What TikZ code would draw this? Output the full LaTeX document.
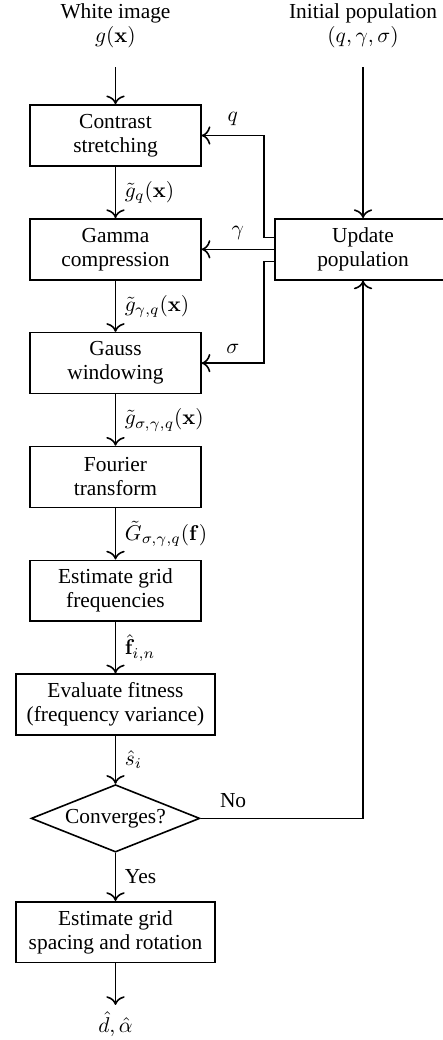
\documentclass[tikz,border=0pt]{standalone}
\usepackage{fix-cm}
\usepackage[no-math]{fontspec}
\setmainfont{Liberation Serif}
\usetikzlibrary{positioning,shapes.geometric,arrows.meta}

\begin{document}
\begin{tikzpicture}[
node distance=20mm, on grid,
>={To[scale=1.3]},
every node/.style={font=\fontsize{10.7pt}{12pt}\selectfont},
blocknode/.style={rectangle, draw=black, thick, align=center, minimum width=30mm, minimum height=10.7mm},
widenode/.style={blocknode, minimum width=35mm},
decisionnode/.style={diamond, draw=black, thick, aspect=2.5, inner sep=1.5pt},
textnode/.style={align=center},
]
\useasboundingbox (-57.75pt,67.75pt) rectangle (163.75pt,-452.25pt);
%Nodes
\node[blocknode]      (contrast)                      {Contrast\\stretching};
\node[blocknode]      (gamma)    [below=of contrast]  {Gamma\\compression};
\node[blocknode]      (gauss)    [below=of gamma]     {Gauss\\windowing};
\node[blocknode]      (fourier)  [below=of gauss]     {Fourier\\transform};
\node[blocknode]      (gridfreq) [below=of fourier]   {Estimate grid\\frequencies};
\node[widenode]       (fitness)  [below=of gridfreq]  {Evaluate fitness\\(frequency variance)};
\node[decisionnode]   (converge) [below=of fitness]   {Converges?};
\node[widenode]       (spacing)  [below=of converge]  {Estimate grid\\spacing and rotation};
\node[blocknode, minimum width=31mm] (update) [right=43.5mm of gamma] {Update\\population};
\node[textnode]       (whiteimg) [above=19.2mm of contrast] {White image\\$g(\mathbf{x})$};
\node[textnode]       (initpop)  at (update |- whiteimg) {Initial population\\$(q,\gamma,\sigma)$};
\node[textnode]       (result)   [below=16.2mm of spacing] {$\hat{d}, \hat{\alpha}$};

%Lines
\draw[thick,->,shorten <=6pt] (whiteimg) -- (contrast);
\draw[thick,->,shorten <=6pt] (initpop) -- (update);
\draw[thick,->] (contrast) -- node[right=1pt] {$\tilde{g}_q(\mathbf{x})$} (gamma);
\draw[thick,->] (gamma) -- node[right=1pt] {$\tilde{g}_{\gamma,q}(\mathbf{x})$} (gauss);
\draw[thick,->] (gauss) -- node[right=1pt] {$\tilde{g}_{\sigma,\gamma,q}(\mathbf{x})$} (fourier);
\draw[thick,->] (fourier) -- node[right=1pt] {$\tilde{G}_{\sigma,\gamma,q}(\mathbf{f})$} (gridfreq);
\draw[thick,->] (gridfreq) -- node[right=1pt] {$\hat{\mathbf{f}}_{i,n}$} (fitness);
\draw[thick,->] (fitness) -- node[right=1pt] {$\hat{s}_i$} (converge);
\draw[thick,->] (converge) -- node[right=1pt] {Yes} (spacing);
\draw[thick,->] (spacing) -- (result);
\draw[thick,->] (converge.east) -| node[pos=0.1, above=1.5pt] {No} (update.south);
% parameters fed back into the chain
\draw[thick,->] ([yshift=6pt]update.west) -- ++(-5pt,0) |- node[pos=0.75, above=1pt] {$q$} (contrast.east);
\draw[thick,->] (update.west) -- node[above=1pt] {$\gamma$} (gamma.east);
\draw[thick,->] ([yshift=-6pt]update.west) -- ++(-5pt,0) |- node[pos=0.75, above=1pt] {$\sigma$} (gauss.east);
\end{tikzpicture}
\end{document}
